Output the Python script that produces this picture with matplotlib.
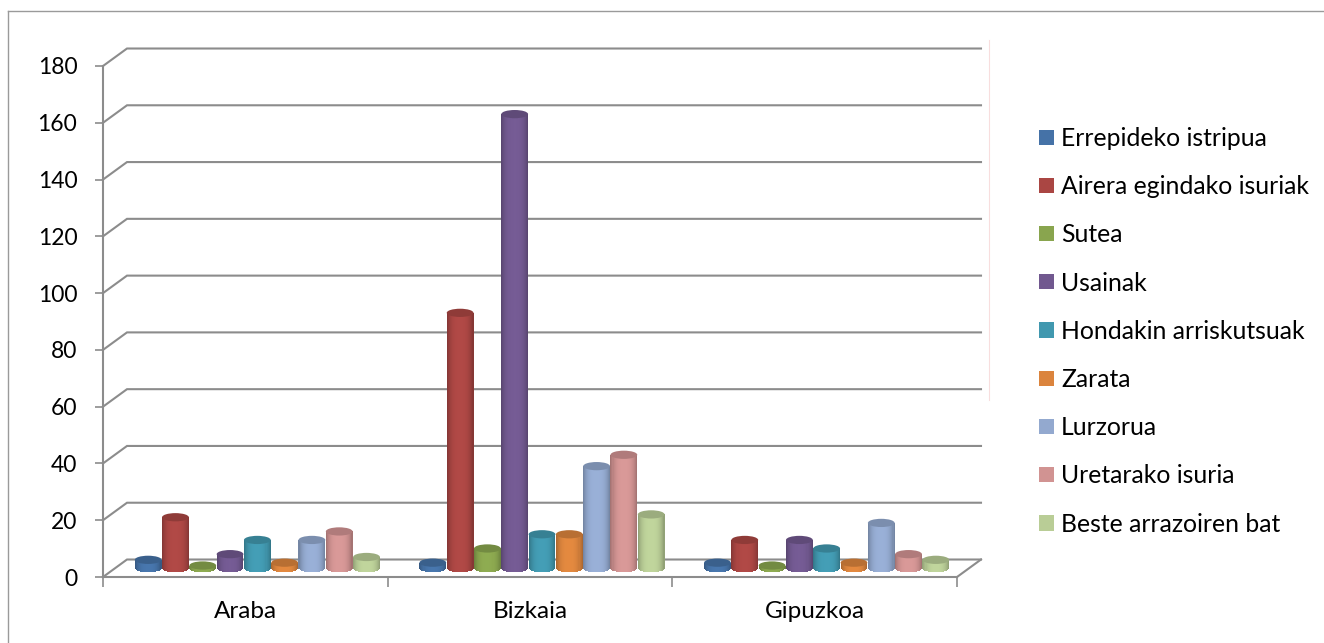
import numpy as np
import matplotlib
matplotlib.use('Agg')
import matplotlib.pyplot as plt
from matplotlib.colors import to_rgb
from matplotlib.lines import Line2D
from matplotlib.patches import Ellipse, Patch

categories = ['Araba', 'Bizkaia', 'Gipuzkoa']
series_names = ['Errepideko istripua', 'Airera egindako isuriak', 'Sutea', 'Usainak',
                'Hondakin arriskutsuak', 'Zarata', 'Lurzorua', 'Uretarako isuria',
                'Beste arrazoiren bat']
series_colors = ['#4572A7', '#AA4643', '#89A54E', '#71588F', '#4198AF',
                 '#DB843D', '#93A9CF', '#D19392', '#B9CD96']

errepide = [3, 2, 2]
airera = [18, 90, 10]
sutea = [1, 7, 1]
usainak = [5, 160, 10]
hondakin = [10, 12, 7]
zarata = [2, 12, 2]
lurzorua = [10, 36, 16]
uretarako = [13, 40, 5]
beste = [4, 19, 3]
series_values = [errepide, airera, sutea, usainak, hondakin, zarata, lurzorua, uretarako, beste]

y_ticks = list(range(0, 181, 20))

W, H = 1324, 643
AXIS_GREY = '#8C8C8C'
FRAME_GREY = '#9A9A9A'
FONT = 'Lato'

# fake 3d: how far the back wall sits from the front axes, in data units
DEPTH_X = 24 / 284.7
DEPTH_Y = 17.5 / 2.84
BAR_W = 27.3 / 284.7
BAR_BASE = 3.05
ELLIPSE_H = 2.9
N_STRIPS = 26


def shade(color, factor):
    r = np.array(to_rgb(color)) * factor
    return tuple(np.clip(r, 0, 1))


def draw_cylinder(ax, x, value, color, zorder):
    """Cylinder built from thin bars so it gets a left-right shading."""
    edges = np.linspace(-1, 1, N_STRIPS + 1)
    mids = (edges[:-1] + edges[1:]) / 2
    w = BAR_W * 0.98
    top = BAR_BASE + value
    for t in mids:
        curve = np.sqrt(1 - t ** 2) * ELLIPSE_H / 2
        factor = 0.76 + 0.28 * (1 - abs(t) ** 3)
        ax.bar(x + t * w / 2, top - BAR_BASE + curve, width=w / N_STRIPS * 1.15,
               bottom=BAR_BASE - curve, color=[shade(color, factor)], linewidth=0,
               zorder=zorder, clip_on=False)
    ax.add_patch(Ellipse((x, top), w, ELLIPSE_H, facecolor=shade(color, 0.84),
                         edgecolor='none', zorder=zorder + 0.1, clip_on=False))


def main():
    plt.rcParams['font.family'] = [FONT, 'DejaVu Sans']
    fig = plt.figure(figsize=(W / 100, H / 100), dpi=100)
    fig.patch.set_facecolor('white')

    # outer chart frame
    fig.add_artist(Line2D([8 / W, 8 / W], [0, 1 - 11 / H], color=FRAME_GREY, lw=1.0))
    fig.add_artist(Line2D([8 / W, 1], [1 - 11 / H, 1 - 11 / H], color=FRAME_GREY, lw=1.0))
    fig.add_artist(Line2D([989 / W, 989 / W], [1 - 400 / H, 1 - 40 / H], color='#F8DEDE', lw=0.8))

    ax = fig.add_axes([103 / W, 1 - 577 / H, 854 / W, 511 / H])
    ax.set_xlim(0, 3)
    ax.set_ylim(0, 180)
    ax.set_facecolor('none')
    for name in ['top', 'right']:
        ax.spines[name].set_visible(False)
    for name in ['left', 'bottom']:
        ax.spines[name].set_color(AXIS_GREY)
        ax.spines[name].set_linewidth(1.5)

    # back wall gridlines and side diagonals
    for v in y_ticks:
        ax.plot([0, DEPTH_X, 3 + DEPTH_X], [v, v + DEPTH_Y, v + DEPTH_Y], color=AXIS_GREY,
                lw=1.5, clip_on=False, zorder=1, solid_joinstyle='miter')
    ax.plot([3, 3 + DEPTH_X], [0, DEPTH_Y], color=AXIS_GREY, lw=1.5, clip_on=False, zorder=1)

    ax.set_yticks(y_ticks)
    ax.set_xticks([0, 1, 2, 3])
    ax.set_xticklabels([])
    ax.tick_params(axis='y', length=5.5, width=1.2, color=AXIS_GREY, labelsize=16.5, pad=13,
                   labelcolor='black')
    ax.tick_params(axis='x', length=7, width=1.2, color=AXIS_GREY)
    for i, cat in enumerate(categories):
        ax.text(i + 0.5, -12.3, cat, ha='center', va='center', fontsize=17.5, color='black')

    # bars, drawn left to right per group
    for g in range(len(categories)):
        start = g + DEPTH_X / 2 + 0.5 - BAR_W * 4
        for s, vals in enumerate(series_values):
            draw_cylinder(ax, start + s * BAR_W, vals[g], series_colors[s], 3 + s * 0.01)

    handles = [Patch(facecolor=c, edgecolor='none') for c in series_colors]
    fig.legend(handles, series_names, loc='upper left', bbox_to_anchor=(1032 / W, 1 - 119.5 / H),
               frameon=False, fontsize=17.8, handlelength=0.57, handleheight=0.57,
               handletextpad=0.3, labelspacing=1.02, borderpad=0.3, borderaxespad=0)

    fig.savefig('out.png', dpi=100)


if __name__ == "__main__":
    main()
